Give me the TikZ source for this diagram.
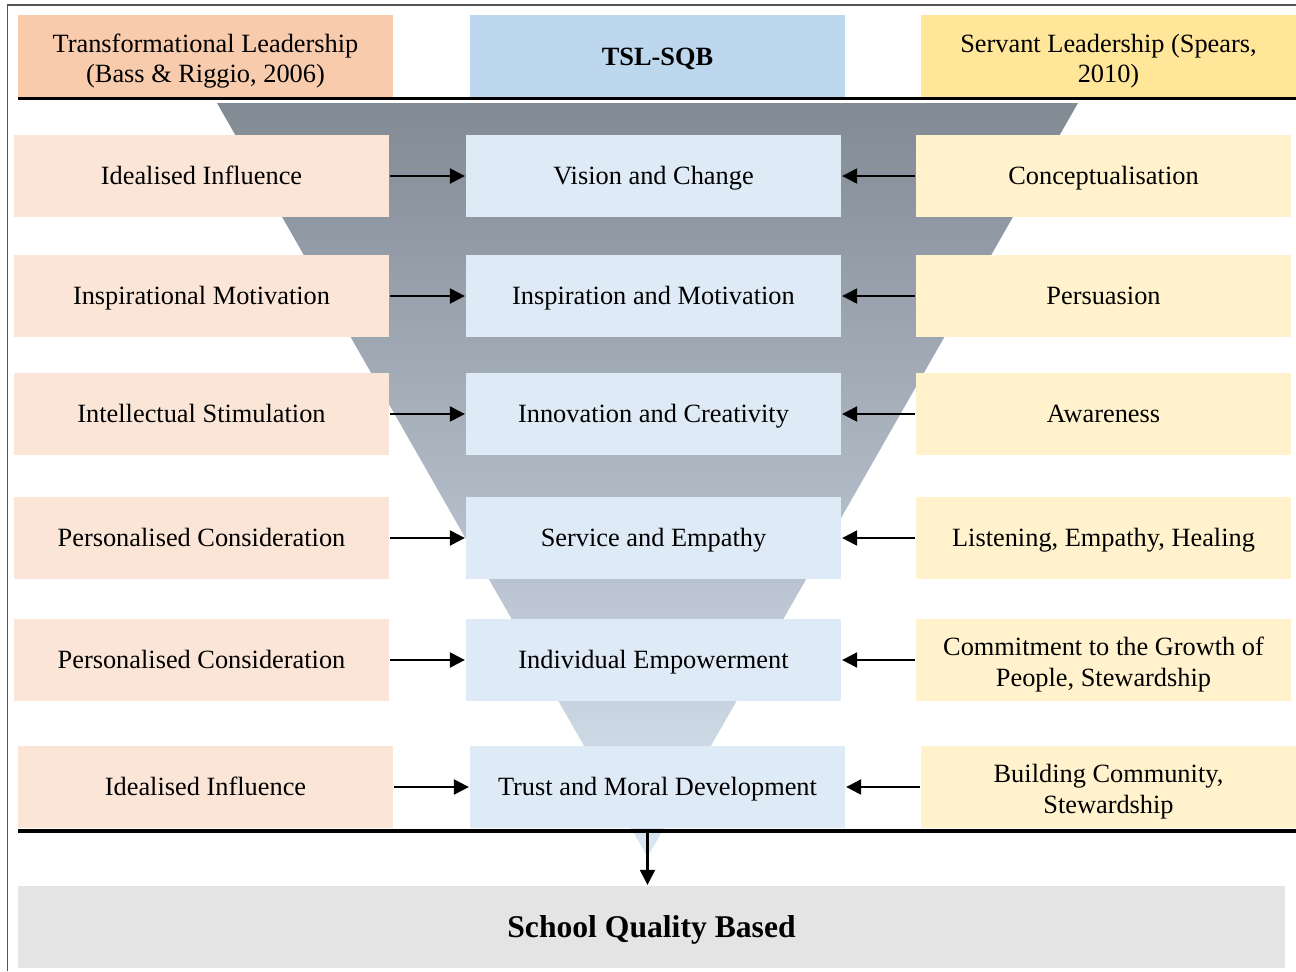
\documentclass[tikz,border=0pt]{standalone}
\usepackage{fontspec}
\setmainfont{Liberation Serif}
\usepackage{tikz}
\usetikzlibrary{arrows.meta}

\definecolor{hdrleft}{HTML}{F8CBAD}
\definecolor{hdrmid}{HTML}{BDD7EE}
\definecolor{hdrright}{HTML}{FFE699}
\definecolor{boxleft}{HTML}{FBE5D6}
\definecolor{boxmid}{HTML}{DEEAF6}
\definecolor{boxright}{HTML}{FFF2CC}
\definecolor{schoolgray}{HTML}{E4E4E4}
\definecolor{funneltop}{HTML}{828A94}
\definecolor{funnelbot}{HTML}{DAE6F3}
\definecolor{framegray}{HTML}{555555}

\tikzset{
  cell/.style={rectangle, inner sep=0pt, minimum width=7.5cm, minimum height=1.64cm,
    align=center, font=\fontsize{15}{17.6}\selectfont},
  % one line of text: centre the capitals in the box
  oneline/.style={cell, text height=9.9pt, text depth=0pt},
  % two lines of text
  twoline/.style={cell, text height=33.4pt, text depth=3.3pt},
  head/.style={minimum height=1.66cm},
  rule/.style={line width=2pt, black},
}

\begin{document}
\begin{tikzpicture}[>={Triangle[length=0.3cm,width=0.3cm]}, line width=1.3pt]

    \useasboundingbox (0,0) rectangle (25.92,-19.42);

    % page frame
    \draw[framegray, line width=1.1pt] (0.15,-19.42) -- (0.15,-0.1) -- (25.92,-0.1);

    % funnel behind everything
    \coordinate (apex) at (12.95,-17.14);
    \shade[top color=funneltop, bottom color=funnelbot] (4.34,-2.06) -- (21.56,-2.06) -- (apex) -- cycle;

    % headers
    \draw (4.11,-1.13) node[twoline, head, fill=hdrleft] (H1) {Transformational Leadership\\(Bass \& Riggio, 2006)};
    \draw (13.15,-1.13) node[oneline, head, fill=hdrmid, font=\fontsize{15}{17.6}\selectfont\bfseries] (H2) {TSL-SQB};
    \draw (22.17,-1.13) node[twoline, head, fill=hdrright] (H3) {Servant Leadership (Spears,\\2010)};
    \draw[rule] (0.36,-1.97) -- (25.92,-1.97);

    % left column
    \draw (4.03,-3.52) node[oneline, fill=boxleft] (L1) {Idealised Influence};
    \draw (4.03,-5.92) node[oneline, fill=boxleft] (L2) {Inspirational Motivation};
    \draw (4.03,-8.28) node[oneline, fill=boxleft] (L3) {Intellectual Stimulation};
    \draw (4.03,-10.76) node[oneline, fill=boxleft] (L4) {Personalised Consideration};
    \draw (4.03,-13.2) node[oneline, fill=boxleft] (L5) {Personalised Consideration};
    \draw (4.11,-15.74) node[oneline, fill=boxleft] (L6) {Idealised Influence};

    % middle column
    \draw (13.07,-3.52) node[oneline, fill=boxmid] (C1) {Vision and Change};
    \draw (13.07,-5.92) node[oneline, fill=boxmid] (C2) {Inspiration and Motivation};
    \draw (13.07,-8.28) node[oneline, fill=boxmid] (C3) {Innovation and Creativity};
    \draw (13.07,-10.76) node[oneline, fill=boxmid] (C4) {Service and Empathy};
    \draw (13.07,-13.2) node[oneline, fill=boxmid] (C5) {Individual Empowerment};
    \draw (13.15,-15.74) node[oneline, fill=boxmid] (C6) {Trust and Moral Development};

    % right column
    \draw (22.07,-3.52) node[oneline, fill=boxright] (R1) {Conceptualisation};
    \draw (22.07,-5.92) node[oneline, fill=boxright] (R2) {Persuasion};
    \draw (22.07,-8.28) node[oneline, fill=boxright] (R3) {Awareness};
    \draw (22.07,-10.76) node[oneline, fill=boxright] (R4) {Listening, Empathy, Healing};
    \draw (22.07,-13.2) node[twoline, fill=boxright] (R5) {Commitment to the Growth of\\People, Stewardship};
    \draw (22.17,-15.74) node[twoline, fill=boxright] (R6) {Building Community,\\Stewardship};

    \draw[rule] (0.36,-16.62) -- (25.92,-16.62);

    % outcome
    \draw (13.03,-18.54) node[oneline, fill=schoolgray, minimum width=25.34cm, text height=11.9pt,
      font=\fontsize{18}{21}\selectfont\bfseries] (S) {School Quality Based};

    % arrows
    \foreach \i in {1,...,6} {
      \draw[->] (L\i) -- (C\i);
      \draw[->] (R\i) -- (C\i);
    }
    \draw[->] (apex |- C6.south) -- (apex |- S.north);

\end{tikzpicture}
\end{document}
